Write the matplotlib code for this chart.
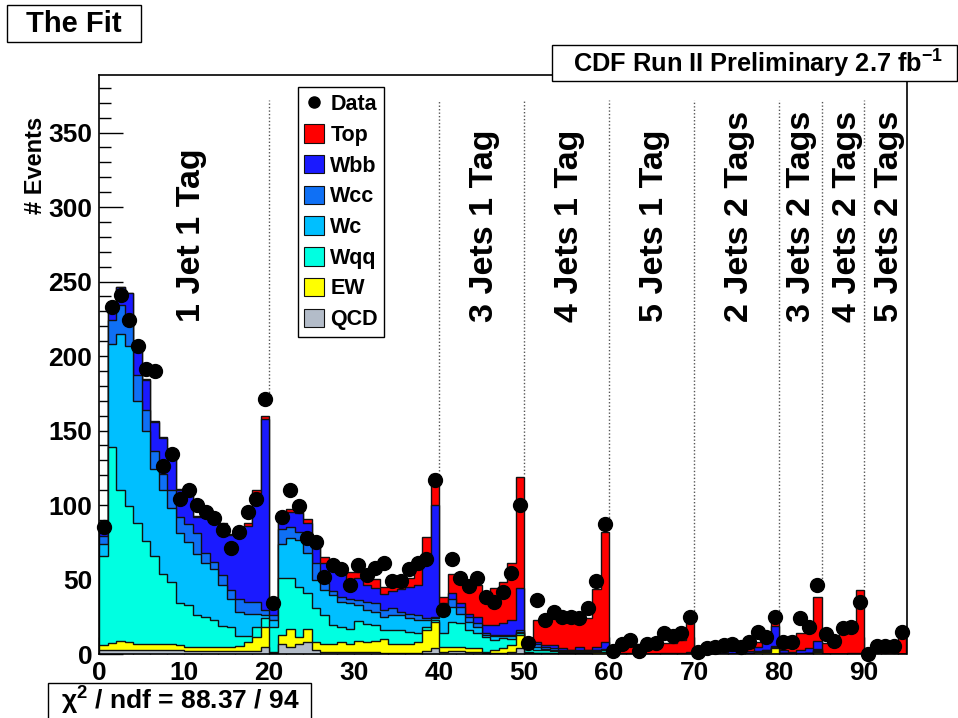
import numpy as np
import matplotlib
matplotlib.use('Agg')
import matplotlib.pyplot as plt
from matplotlib.patches import Rectangle, Patch
from matplotlib.lines import Line2D
from matplotlib.ticker import MultipleLocator

plt.rcParams['font.family'] = ['Liberation Sans', 'DejaVu Sans']
plt.rcParams['font.weight'] = 'bold'
plt.rcParams['mathtext.fontset'] = 'custom'
plt.rcParams['mathtext.rm'] = 'Liberation Sans'
plt.rcParams['mathtext.bf'] = 'Liberation Sans:bold'
plt.rcParams['mathtext.it'] = 'Liberation Sans:italic'

# ---------------- data (95 bins, width 1) ----------------
bin_edges = list(range(0, 96))

qcd = [3, 3, 3, 3, 2.5, 2.5, 2.5, 2.5, 2.5, 2.5,
       2, 2, 2, 2, 2, 2, 2, 2, 2, 5,
       0.5, 7, 5, 7, 8, 2.7, 1.5, 1.5, 1.5, 1.5,
       1.5, 1.5, 1.5, 0.5, 0.5, 0.5, 0.5, 0.5, 2, 4,
       1.6, 2.2, 2.2, 1.5, 1.5, 1, 1, 1, 1.5, 4,
       0.5, 0.5, 0.5, 0.3, 0.3, 0.3, 0.3, 0.3, 0.3, 0.3,
       0, 0, 0, 0, 0, 0, 0, 0, 0, 0,
       0, 0, 0, 0, 0, 0, 0, 0, 0, 0,
       0, 0, 0, 0, 0, 0, 0, 0, 0, 0,
       0, 0, 0, 0, 0]
ew = [3, 4.5, 5.5, 5, 4.5, 4, 4, 4, 4, 3.5,
      3, 3, 3, 3, 3, 3, 3.5, 6, 9.5, 13,
      1, 5.7, 12, 4.6, 9, 5.3, 5.5, 5.5, 6.5, 5.5,
      7.5, 6.5, 7.5, 9.5, 6.5, 6.5, 6.5, 7.5, 14, 17.7,
      3.4, 2.8, 2.8, 2.3, 2.3, 0.6, 1.7, 2.8, 4.5, 8.7,
      1, 0.5, 0.5, 0.5, 0.5, 0.5, 0.5, 0.5, 1, 1.3,
      0, 0, 0, 0, 0, 0, 0, 0, 0, 0.3,
      0, 0, 0, 0, 0, 0, 1, 1.5, 1.5, 3.8,
      0.5, 0, 0.3, 0.5, 1.6, 0, 0, 0, 0, 0.3,
      0, 0, 0, 0, 0]
wqq = [60, 131.5, 101.5, 91, 81, 69.5, 59.5, 47.5, 41.5, 28,
       28, 21, 20, 18, 14, 13, 6.5, 4, 6.5, 6,
       16.5, 38.3, 34, 33.4, 23.7, 22.6, 19, 12.5, 10, 10,
       13, 12, 10.5, 6, 9, 9, 8, 6, 2, 1.3,
       9, 16.7, 15.6, 12.2, 10.1, 10, 6.7, 6.7, 4, 1.3,
       2, 2, 1.5, 1.2, 0.7, 0.7, 0.7, 0.7, 0.7, 0.9,
       0, 0, 0, 0, 0, 0, 0, 0, 0, 0,
       0, 0, 0, 0, 0, 0, 0, 0, 0.5, 0.5,
       0, 0, 0, 0, 0.5, 0, 0, 0, 0, 0,
       0, 0, 0, 0, 0]
wc = [8, 69, 105, 108, 82, 74, 58, 56, 50, 47,
      42, 41, 36, 34, 27, 19, 16, 15, 9, 2,
      5, 23, 27, 31.5, 26.8, 19.1, 17, 20.1, 17, 17,
      11, 9.5, 8.9, 9, 10, 10, 9, 9, 5, 1,
      12, 10.1, 6.4, 5.7, 4.4, 1.4, 2.6, 1.5, 2, 1,
      1, 1.5, 1, 1, 0.5, 0.5, 0.5, 0.5, 0.5, 0.5,
      0, 0, 0, 0, 0, 0, 0, 0, 0, 0,
      0, 0, 0, 0, 0, 0, 0, 0, 0.5, 0.5,
      0, 0, 0, 0, 0.5, 0, 0, 0, 0, 0,
      0, 0, 0, 0, 0]
wcc = [5, 16, 19, 14, 17, 14, 12, 11, 12, 11,
       12, 14, 7, 5, 7, 6, 9, 8, 8, 3.5,
       3, 9.7, 7.5, 5.5, 6.5, 11.3, 4.4, 2.4, 3.5, 3,
       3, 5.5, 5.6, 4.5, 4.6, 2.4, 3, 3, 1, 1,
       3.5, 4.9, 4.8, 3.3, 2.3, 1, 1, 1, 1, 1,
       1, 2.5, 1, 1, 0.5, 0.5, 0.5, 0.5, 0.5, 0.5,
       0, 0, 0, 0, 0, 0, 0, 0, 0, 0,
       0, 0, 0, 0, 0, 0, 0, 0.5, 0.5, 0.5,
       0.5, 0, 0.3, 0.5, 0.5, 0, 0, 0, 0, 0,
       0, 0, 0, 0, 0]
wbb = [2.5, 6, 12, 21, 16, 20, 20, 24, 21, 18,
       20, 11, 25, 28, 33, 37, 43, 51, 73, 128,
       6, 4, 9.5, 12.4, 13.7, 10, 13.6, 15, 16.5, 11.5,
       15, 11, 10, 10.5, 11.9, 15.1, 18, 20.5, 42, 75,
       4.5, 4, 2.2, 2, 4.4, 5.5, 6.5, 7.6, 9.8, 28.5,
       2.5, 1.3, 1.5, 2, 1.3, 0.5, 2.5, 0.5, 1.5, 4.3,
       0.3, 0.5, 0.5, 0.5, 0.3, 0.3, 0.5, 0.5, 0.5, 1,
       0.5, 0.7, 1, 1.5, 2, 1.5, 1.2, 3, 5, 13.5,
       2, 1.6, 2.4, 2.8, 5.6, 0.3, 0.3, 0.3, 0.4, 0.7,
       0.1, 0.2, 0.2, 0.2, 0.3]
top = [0.5, 0.5, 0.5, 0.5, 0.5, 0.5, 0.5, 0.5, 0.5, 0.5,
       0.5, 0.5, 0.5, 0.5, 2, 0.5, 0.5, 2, 2, 2,
       0.3, 0.3, 2, 0.6, 2.7, 0.5, 4, 1, 1, 6.5,
       4, 5.5, 6.5, 5, 3.5, 3.9, 6, 10.5, 12.7, 21,
       4.5, 13.3, 20, 22.7, 21, 22.3, 25, 27.9, 38.2, 74.5,
       3, 14.5, 18, 19.5, 17.9, 18.7, 17.8, 21, 38.9, 74.2,
       0.7, 3.5, 5, 6, 3.5, 3.7, 7.1, 7.1, 8.9, 19.7,
       1, 1.5, 1.7, 2.3, 1.8, 1.5, 1.6, 3.3, 1.5, 2.9,
       8.6, 10.4, 11.3, 12.2, 29.8, 7.3, 11.7, 14, 17.5, 42,
       0.4, 1.4, 2, 1.4, 11.3]
data = [85, 233, 241, 224, 207, 191, 190, 126, 134, 104,
        110, 100, 95, 91, 83, 71, 82, 95, 104, 171,
        34.5, 92, 110, 99, 77.6, 75.4, 52, 59.7, 56.8, 46,
        60, 53, 57.5, 61, 49, 49, 56.8, 61, 64, 117,
        29.5, 64, 50.8, 45.6, 50.8, 38, 35, 41.8, 54.6, 100,
        7.6, 36, 22.8, 28.4, 25, 25, 24, 30.6, 49, 87,
        2, 6.7, 9.4, 2.2, 6.7, 7.2, 13.9, 12, 13.9, 25,
        1.6, 4.2, 5, 6, 6.7, 5, 8.3, 15, 11.6, 25,
        8.3, 8.3, 24, 18.3, 46.3, 13.4, 9, 17.2, 18.3, 35,
        0, 5.4, 5.4, 5.4, 15]

component_names = ['QCD', 'EW', 'Wqq', 'Wc', 'Wcc', 'Wbb', 'Top']
region_edges = [20, 40, 50, 60, 70, 80, 85, 90]
region_labels = ['1 Jet 1 Tag', '3 Jets 1 Tag', '4 Jets 1 Tag', '5 Jets 1 Tag',
                 '2 Jets 2 Tags', '3 Jets 2 Tags', '4 Jets 2 Tags', '5 Jets 2 Tags']
region_label_x = [10.9, 45.3, 55.3, 65.3, 75.3, 82.7, 88.0, 93.0]

# ---------------- styling ----------------
colors = {'QCD': '#b3bcc9', 'EW': '#ffff00', 'Wqq': '#00ffe1', 'Wc': '#00bfff',
          'Wcc': '#0f70f5', 'Wbb': '#1a1aff', 'Top': '#ff0000'}

W, H = 958, 718
fig = plt.figure(figsize=(W / 100, H / 100), dpi=100)
x0, x1, y0, y1 = 99.3, 906.5, 654, 75
ax = fig.add_axes([x0 / W, (H - y0) / H, (x1 - x0) / W, (y0 - y1) / H])

edges = np.array(bin_edges, dtype=float)
centers = 0.5 * (edges[:-1] + edges[1:])
comps = [np.array(v, dtype=float) for v in (qcd, ew, wqq, wc, wcc, wbb, top)]
cum = np.cumsum(np.vstack(comps), axis=0)
total = cum[-1]
dat = np.array(data, dtype=float)

for i in range(len(comps) - 1, -1, -1):
    name = component_names[i]
    ax.stairs(cum[i], edges, baseline=0, fill=True, facecolor=colors[name],
              edgecolor='#111111', linewidth=1.0, zorder=2 + (6 - i) * 0.1)

ax.plot(centers, dat, 'o', color='black', ms=10, zorder=10, clip_on=False)

ymax = 388.6
ax.set_xlim(0, 95)
ax.set_ylim(0, ymax)

# dotted region separators
for b in region_edges:
    lo = max(total[b - 1], total[b], dat[b - 1], dat[b]) + 2
    ax.vlines(b, lo, 372, colors='#555555', linestyles=(0, (1, 1.5)), linewidth=1.0, zorder=3)

for xl, lab in zip(region_label_x, region_labels):
    ax.text(xl, 223, lab, rotation=90, ha='center', va='bottom', fontsize=24.5,
            fontweight='bold', zorder=5)

ax.xaxis.set_major_locator(MultipleLocator(10))
ax.xaxis.set_minor_locator(MultipleLocator(2))
ax.yaxis.set_major_locator(MultipleLocator(50))
ax.yaxis.set_minor_locator(MultipleLocator(10))
ax.set_yticks(np.arange(0, 351, 50))
ax.tick_params(axis='both', which='both', direction='in', top=False, right=False,
               labelsize=19, width=1.0)
ax.tick_params(axis='y', which='major', length=17.4, pad=5)
ax.tick_params(axis='y', which='minor', length=8.7)
ax.tick_params(axis='x', which='major', length=12.5, pad=5)
ax.tick_params(axis='x', which='minor', length=6.2)
for lab in ax.get_xticklabels() + ax.get_yticklabels():
    lab.set_fontweight('bold')
for s in ax.spines.values():
    s.set_linewidth(1.2)
    s.set_zorder(20)

fig.text(35 / W, 1 - 117 / H, '# Events', rotation=90, ha='center', va='top',
         fontsize=17, fontweight='bold')

# legend
handles = [Line2D([], [], marker='o', color='black', linestyle='none', ms=8)]
labels = ['Data']
for name in ['Top', 'Wbb', 'Wcc', 'Wc', 'Wqq', 'EW', 'QCD']:
    handles.append(Patch(facecolor=colors[name], edgecolor='#111111', linewidth=0.8))
    labels.append(name)
leg = ax.legend(handles, labels, loc='upper left',
                bbox_to_anchor=(298 / W, 1 - 87 / H), bbox_transform=fig.transFigure,
                borderaxespad=0, frameon=True, fancybox=False, framealpha=1,
                edgecolor='black', prop={'size': 15.5, 'weight': 'bold'},
                handlelength=0.9, handleheight=0.95, handletextpad=0.3,
                labelspacing=0.42, borderpad=0.3)
leg.get_frame().set_linewidth(1.0)
leg.set_zorder(30)

# boxes
def fig_box(px0, py0, px1, py1):
    r = Rectangle((px0 / W, 1 - py1 / H), (px1 - px0) / W, (py1 - py0) / H,
                  transform=fig.transFigure, facecolor='white', edgecolor='black',
                  linewidth=1.0)
    fig.add_artist(r)

fig_box(7, 5, 141, 42)
fig.text(74 / W, 1 - 24 / H, 'The Fit', ha='center', va='center', fontsize=21,
         fontweight='bold')
fig_box(552, 45, 957, 81)
fig.text(573 / W, 1 - 64 / H, r'CDF Run II Preliminary 2.7 fb$^{\mathbf{-1}}$', ha='left',
         va='center', fontsize=18.3, fontweight='bold')
fig_box(48, 683, 311, 725)
fig.text(180 / W, 1 - 701 / H, r'$\mathrm{\chi}^{\mathbf{2}}$ / ndf = 88.37 / 94', ha='center',
         va='center', fontsize=19, fontweight='bold')

fig.savefig('out.png', dpi=100)
